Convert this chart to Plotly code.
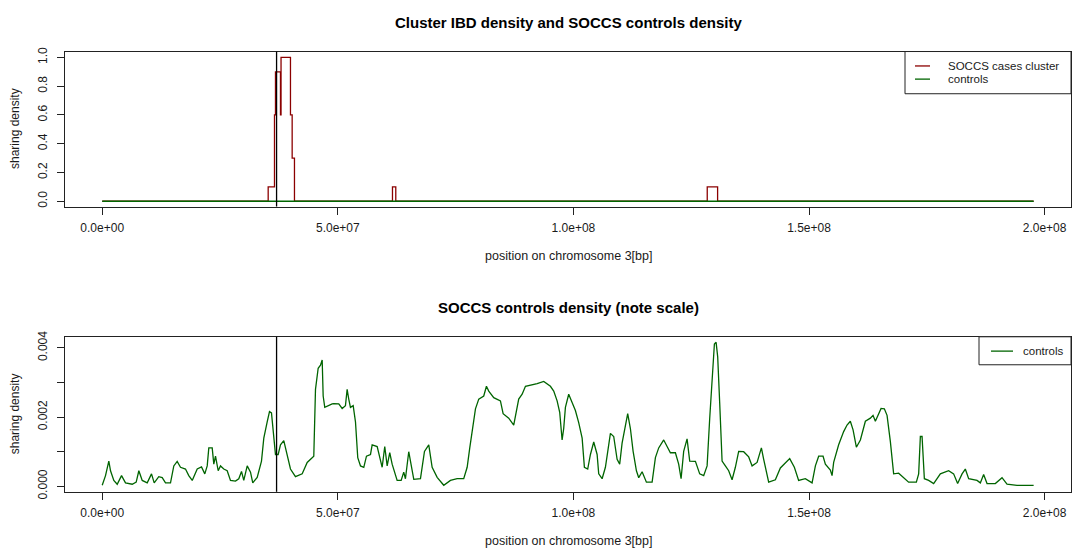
import plotly.graph_objects as go

# ---------------- data ----------------
# controls sharing density along chromosome 3 (positions in Mb, density in 1e-3 units)
ctrl_pos_mb = [0, 0.7, 1.4, 1.76, 2.46, 3.18, 4.1, 4.94, 6.37, 7.21, 7.77, 8.49, 9.55, 10.46, 11.03,
               12.0, 12.73, 13.43, 14.49, 15.19, 15.91, 16.61, 17.67, 18.37, 19.1, 20.16, 21.07, 21.77,
               22.28, 22.62, 23.34, 23.68, 24.04, 24.61, 25.1, 25.8, 26.52, 27.22, 28.28, 28.98, 29.56,
               30.04, 30.77, 31.47, 31.95, 32.89, 33.8, 34.29, 35.01, 35.5, 35.92, 36.41, 36.77, 37.34,
               37.83, 38.53, 39.25, 39.95, 41.01, 42.44, 43.5, 44.9, 45.26, 45.83, 46.32, 46.68, 46.89,
               47.23, 48.8, 49.14, 50.2, 50.92, 51.62, 51.98, 52.32, 52.68, 53.26, 53.75, 54.23, 54.81,
               55.51, 56.08, 56.93, 57.29, 58.35, 59.05, 59.41, 59.96, 60.47, 61.02, 61.53, 62.59, 63.44,
               63.99, 64.35, 65.05, 65.63, 66.12, 67.54, 68.39, 69.3, 70.02, 71.08, 72.48, 73.9, 75.32,
               76.72, 77.45, 78.0, 78.51, 79.21, 79.91, 80.97, 81.54, 82.03, 83.09, 84.51, 85.08, 86.27,
               87.33, 87.69, 88.39, 89.12, 89.82, 92.3, 93.7, 95.12, 95.82, 96.54, 97.09, 97.6, 97.94,
               98.3, 99.0, 99.72, 100.42, 101.12, 101.85, 102.33, 103.03, 103.61, 104.31, 105.03, 105.37,
               106.09, 106.79, 107.85, 108.55, 109.27, 109.82, 110.33, 111.03, 111.52, 112.09, 112.67,
               113.37, 113.86, 114.58, 115.49, 116.7, 117.4, 118.1, 119.16, 119.88, 120.58, 121.64,
               122.34, 122.85, 123.4, 124.12, 124.68, 125.89, 126.8, 127.65, 128.37, 128.92, 129.43,
               129.92, 130.28, 130.62, 131.04, 131.55, 132.25, 132.95, 133.67, 134.37, 135.07, 136.13,
               137.2, 137.92, 138.98, 139.89, 140.38, 141.44, 142.86, 143.92, 145.9, 146.89, 147.8,
               149.22, 150.65, 151.35, 152.05, 152.98, 153.47, 154.53, 154.89, 155.23, 156.29, 157.35,
               158.07, 158.77, 159.35, 160.05, 160.9, 161.96, 163.02, 163.59, 164.08, 164.78, 165.29,
               165.99, 166.56, 167.26, 167.96, 169.02, 170.08, 171.14, 172.78, 173.27, 173.63, 173.99,
               174.48, 175.39, 176.45, 177.87, 179.63, 180.69, 181.54, 182.48, 183.17, 183.88, 185.66,
               186.36, 187.06, 187.78, 189.54, 190.96, 192.02, 194.14, 197.67]
ctrl_val_e3 = [0.03, 0.31, 0.73, 0.45, 0.17, 0.06, 0.31, 0.10, 0.06, 0.12, 0.45, 0.17, 0.10, 0.36, 0.10,
               0.28, 0.25, 0.10, 0.10, 0.59, 0.72, 0.55, 0.50, 0.31, 0.17, 0.50, 0.56, 0.36,
               0.59, 1.11, 1.11, 0.64, 0.87, 0.45, 0.59, 0.50, 0.45, 0.17, 0.15, 0.22, 0.43,
               0.17, 0.59, 0.41, 0.10, 0.26, 0.73, 1.39, 1.86, 2.16, 2.12, 1.30, 0.92, 0.92,
               1.20, 1.32, 0.92, 0.50, 0.28, 0.36, 0.69, 0.87, 2.80, 3.41, 3.50, 3.65, 2.61,
               2.28, 2.38, 2.39, 2.38, 2.25, 2.33, 2.80, 2.52, 2.28, 2.33, 1.86, 0.83, 0.59,
               0.55, 0.87, 0.92, 1.20, 1.15, 0.69, 0.55, 1.15, 0.59, 0.97, 0.64, 0.17, 0.17,
               0.41, 0.22, 1.00, 0.59, 0.20, 0.22, 1.01, 1.20, 0.55, 0.26, 0.03, 0.17, 0.22,
               0.22, 0.55, 1.11, 1.58, 2.24, 2.52, 2.61, 2.89, 2.75, 2.56, 2.47, 2.10, 1.97,
               1.77, 2.00, 2.52, 2.66, 2.89, 2.97, 3.03, 2.89, 2.75, 2.47, 2.14, 1.34, 1.67,
               2.28, 2.66, 2.42, 2.19, 1.84, 1.39, 0.55, 0.50, 0.92, 1.28, 0.92, 0.36,
               0.22, 0.55, 1.53, 1.44, 0.78, 0.64, 1.25, 1.77, 2.10, 1.67, 1.01,
               0.45, 0.25, 0.42, 0.12, 0.12, 0.83, 1.11, 1.34, 1.15, 0.97, 0.97,
               0.64, 0.22, 1.01, 1.37, 0.73, 0.72, 0.36, 0.31, 0.59, 1.95, 3.08,
               4.11, 4.16, 3.74, 2.42, 0.73, 0.59, 0.45, 0.19, 0.55, 1.01, 1.00,
               0.85, 0.59, 0.69, 1.11, 0.78, 0.12, 0.19, 0.53, 0.80, 0.55, 0.17,
               0.22, 0.10, 0.59, 0.87, 0.87, 0.64, 0.47, 0.31, 0.69, 1.20, 1.58,
               1.77, 1.88, 1.63, 1.13, 1.34, 1.88, 1.97, 2.05, 1.88, 2.12, 2.25,
               2.24, 2.05, 1.30, 0.36, 0.38, 0.25, 0.12, 0.12, 0.36, 1.44, 1.44,
               0.22, 0.17, 0.08, 0.36, 0.45, 0.36, 0.08, 0.36, 0.50, 0.22, 0.17,
               0.10, 0.34, 0.08, 0.08, 0.25, 0.06, 0.03, 0.03]

# SOCCS cases cluster sharing density (step function; positions in Mb)
case_pos_mb = [0, 35.22, 36.56, 36.77, 37.83, 37.95, 39.95, 40.31, 40.8, 61.6, 62.3, 128.4, 130.6, 197.67]
case_val = [0, 0.1, 0.6, 0.9, 0.6, 1.0, 0.6, 0.3, 0, 0.1, 0, 0.1, 0, 0]

# marked locus (vertical line)
locus_bp = 3.7e7

# axis ticks
x_tickvals = [0, 5e7, 1e8, 1.5e8, 2e8]
x_ticktext = ["0.0e+00", "5.0e+07", "1.0e+08", "1.5e+08", "2.0e+08"]
y1_tickvals = [0, 0.2, 0.4, 0.6, 0.8, 1.0]
y1_ticktext = ["0.0", "0.2", "0.4", "0.6", "0.8", "1.0"]
y2_tickvals = [0, 0.001, 0.002, 0.003, 0.004]
y2_ticktext = ["0.000", "", "0.002", "", "0.004"]

titles = ["Cluster IBD density and SOCCS controls density", "SOCCS controls density (note scale)"]
x_title = "position on chromosome 3[bp]"
y_title = "sharing density"
legend1 = ["SOCCS cases cluster", "controls"]
legend2 = ["controls"]

# ---------------- figure ----------------
W, H = 1073, 558
RED = "#8B0000"
GREEN = "#006400"
FONT = "Liberation Sans, Arial, Helvetica, sans-serif"
TXT = "#1a1a1a"

ctrl_x = [p * 1e6 for p in ctrl_pos_mb]
ctrl_y = [v * 1e-3 for v in ctrl_val_e3]
case_x = [p * 1e6 for p in case_pos_mb]

def px(x):
    return x / W

def py(y):
    return 1 - y / H

fig = go.Figure()
fig.add_trace(go.Scatter(x=case_x, y=case_val, mode="lines", line=dict(color=RED, width=1.3, shape="hv"),
                         xaxis="x", yaxis="y", showlegend=False))
fig.add_trace(go.Scatter(x=ctrl_x, y=ctrl_y, mode="lines", line=dict(color=GREEN, width=1.3),
                         xaxis="x", yaxis="y", showlegend=False))
fig.add_trace(go.Scatter(x=ctrl_x, y=ctrl_y, mode="lines", line=dict(color=GREEN, width=1.3),
                         xaxis="x2", yaxis="y2", showlegend=False))

# plot boxes (pixels)
L, R = 65, 1071
T1, B1 = 46.7, 205.7
T2, B2 = 339.3, 498.3

xr = [-7.9e6, 205.6e6]
axis_common = dict(showline=True, mirror=True, linecolor="#222", linewidth=1, ticks="outside",
                   ticklen=7, tickcolor="#222", showgrid=False, zeroline=False,
                   tickfont=dict(family=FONT, size=12, color=TXT))

fig.update_layout(
    width=W, height=H, margin=dict(l=0, r=0, t=0, b=0),
    paper_bgcolor="white", plot_bgcolor="white", showlegend=False,
    xaxis=dict(domain=[px(L), px(R)], range=xr, anchor="y", tickvals=x_tickvals, ticktext=x_ticktext,
               ticklabelstandoff=3, **axis_common),
    yaxis=dict(domain=[py(B1), py(T1)], range=[-0.0366, 1.0407], anchor="x", tickvals=y1_tickvals,
               ticktext=y1_ticktext, tickangle=-90, ticklabelstandoff=5, **axis_common),
    xaxis2=dict(domain=[px(L), px(R)], range=xr, anchor="y2", tickvals=x_tickvals, ticktext=x_ticktext,
                ticklabelstandoff=3, **axis_common),
    yaxis2=dict(domain=[py(B2), py(T2)], range=[-0.000158, 0.00432], anchor="x2", tickvals=y2_tickvals,
                ticktext=y2_ticktext, tickangle=-90, ticklabelstandoff=5, **axis_common),
)

# vertical locus lines
for xa, yref in [("x", "y domain"), ("x2", "y2 domain")]:
    fig.add_shape(type="line", xref=xa, yref=yref,
                  x0=locus_bp, x1=locus_bp, y0=0, y1=1, line=dict(color="black", width=1.3))

ann = []
# titles
for t, yy in zip(titles, [17, 309]):
    ann.append(dict(text="<b>%s</b>" % t, x=px((L + R) / 2), y=py(yy), xref="paper", yref="paper",
                    showarrow=False, xanchor="center", yanchor="middle",
                    font=dict(family=FONT, size=15, color="black")))
# x titles
for yy in [256, 549]:
    ann.append(dict(text=x_title, x=px((L + R) / 2), y=py(yy), xref="paper", yref="paper",
                    showarrow=False, xanchor="center", yanchor="middle",
                    font=dict(family=FONT, size=12.5, color=TXT)))
# y titles
for yy in [(T1 + B1) / 2, (T2 + B2) / 2]:
    ann.append(dict(text=y_title, x=px(15), y=py(yy), xref="paper", yref="paper", textangle=-90,
                    showarrow=False, xanchor="center", yanchor="middle",
                    font=dict(family=FONT, size=12, color=TXT)))

# legend 1 (top panel)
fig.add_shape(type="rect", xref="paper", yref="paper", x0=px(905), x1=px(R), y0=py(90), y1=py(T1),
              line=dict(color="#222", width=1), fillcolor="white", layer="above")
for lab, col, yy in zip(legend1, [RED, GREEN], [61.5, 75]):
    fig.add_shape(type="line", xref="paper", yref="paper", x0=px(915), x1=px(930), y0=py(yy), y1=py(yy),
                  line=dict(color=col, width=1.3), layer="above")
    ann.append(dict(text=lab, x=px(946), y=py(yy), xref="paper", yref="paper", showarrow=False,
                    xanchor="left", yanchor="middle", font=dict(family=FONT, size=11.5, color=TXT)))
# legend 2 (bottom panel)
fig.add_shape(type="rect", xref="paper", yref="paper", x0=px(979), x1=px(R), y0=py(368), y1=py(T2),
              line=dict(color="#222", width=1), fillcolor="white", layer="above")
for lab, col, yy in zip(legend2, [GREEN], [354]):
    fig.add_shape(type="line", xref="paper", yref="paper", x0=px(991), x1=px(1013), y0=py(yy), y1=py(yy),
                  line=dict(color=col, width=1.3), layer="above")
    ann.append(dict(text=lab, x=px(1021), y=py(yy), xref="paper", yref="paper", showarrow=False,
                    xanchor="left", yanchor="middle", font=dict(family=FONT, size=11.5, color=TXT)))

fig.update_layout(annotations=ann)
fig.write_html("out.html")
